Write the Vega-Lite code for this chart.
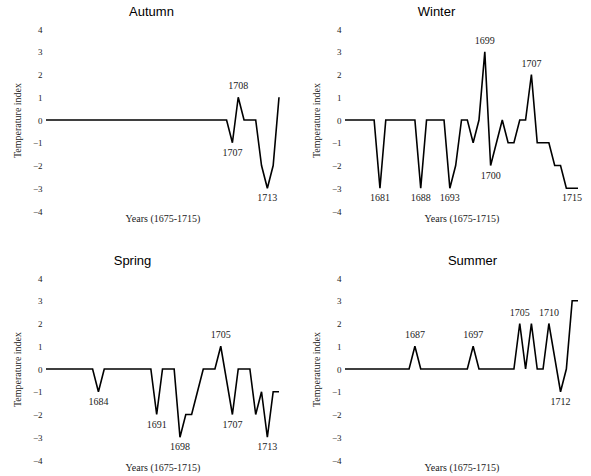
{
  "$schema": "https://vega.github.io/schema/vega-lite/v6.json",
  "background": "white",
  "padding": {"left": 12, "top": 6, "right": 2, "bottom": 2},
  "datasets": {
    "autumn": [
      {"year":1675,"index":0},{"year":1676,"index":0},{"year":1677,"index":0},{"year":1678,"index":0},{"year":1679,"index":0},
      {"year":1680,"index":0},{"year":1681,"index":0},{"year":1682,"index":0},{"year":1683,"index":0},{"year":1684,"index":0},
      {"year":1685,"index":0},{"year":1686,"index":0},{"year":1687,"index":0},{"year":1688,"index":0},{"year":1689,"index":0},
      {"year":1690,"index":0},{"year":1691,"index":0},{"year":1692,"index":0},{"year":1693,"index":0},{"year":1694,"index":0},
      {"year":1695,"index":0},{"year":1696,"index":0},{"year":1697,"index":0},{"year":1698,"index":0},{"year":1699,"index":0},
      {"year":1700,"index":0},{"year":1701,"index":0},{"year":1702,"index":0},{"year":1703,"index":0},{"year":1704,"index":0},
      {"year":1705,"index":0},{"year":1706,"index":0},{"year":1707,"index":-1},{"year":1708,"index":1},{"year":1709,"index":0},
      {"year":1710,"index":0},{"year":1711,"index":0},{"year":1712,"index":-2},{"year":1713,"index":-3},{"year":1714,"index":-2},
      {"year":1715,"index":1}
    ],
    "winter": [
      {"year":1675,"index":0},{"year":1676,"index":0},{"year":1677,"index":0},{"year":1678,"index":0},{"year":1679,"index":0},
      {"year":1680,"index":0},{"year":1681,"index":-3},{"year":1682,"index":0},{"year":1683,"index":0},{"year":1684,"index":0},
      {"year":1685,"index":0},{"year":1686,"index":0},{"year":1687,"index":0},{"year":1688,"index":-3},{"year":1689,"index":0},
      {"year":1690,"index":0},{"year":1691,"index":0},{"year":1692,"index":0},{"year":1693,"index":-3},{"year":1694,"index":-2},
      {"year":1695,"index":0},{"year":1696,"index":0},{"year":1697,"index":-1},{"year":1698,"index":0},{"year":1699,"index":3},
      {"year":1700,"index":-2},{"year":1701,"index":-1},{"year":1702,"index":0},{"year":1703,"index":-1},{"year":1704,"index":-1},
      {"year":1705,"index":0},{"year":1706,"index":0},{"year":1707,"index":2},{"year":1708,"index":-1},{"year":1709,"index":-1},
      {"year":1710,"index":-1},{"year":1711,"index":-2},{"year":1712,"index":-2},{"year":1713,"index":-3},{"year":1714,"index":-3},
      {"year":1715,"index":-3}
    ],
    "spring": [
      {"year":1675,"index":0},{"year":1676,"index":0},{"year":1677,"index":0},{"year":1678,"index":0},{"year":1679,"index":0},
      {"year":1680,"index":0},{"year":1681,"index":0},{"year":1682,"index":0},{"year":1683,"index":0},{"year":1684,"index":-1},
      {"year":1685,"index":0},{"year":1686,"index":0},{"year":1687,"index":0},{"year":1688,"index":0},{"year":1689,"index":0},
      {"year":1690,"index":0},{"year":1691,"index":0},{"year":1692,"index":0},{"year":1693,"index":0},{"year":1694,"index":-2},
      {"year":1695,"index":0},{"year":1696,"index":0},{"year":1697,"index":0},{"year":1698,"index":-3},{"year":1699,"index":-2},
      {"year":1700,"index":-2},{"year":1701,"index":-1},{"year":1702,"index":0},{"year":1703,"index":0},{"year":1704,"index":0},
      {"year":1705,"index":1},{"year":1706,"index":-0.5},{"year":1707,"index":-2},{"year":1708,"index":0},{"year":1709,"index":0},
      {"year":1710,"index":0},{"year":1711,"index":-2},{"year":1712,"index":-1},{"year":1713,"index":-3},{"year":1714,"index":-1},
      {"year":1715,"index":-1}
    ],
    "summer": [
      {"year":1675,"index":0},{"year":1676,"index":0},{"year":1677,"index":0},{"year":1678,"index":0},{"year":1679,"index":0},
      {"year":1680,"index":0},{"year":1681,"index":0},{"year":1682,"index":0},{"year":1683,"index":0},{"year":1684,"index":0},
      {"year":1685,"index":0},{"year":1686,"index":0},{"year":1687,"index":1},{"year":1688,"index":0},{"year":1689,"index":0},
      {"year":1690,"index":0},{"year":1691,"index":0},{"year":1692,"index":0},{"year":1693,"index":0},{"year":1694,"index":0},
      {"year":1695,"index":0},{"year":1696,"index":0},{"year":1697,"index":1},{"year":1698,"index":0},{"year":1699,"index":0},
      {"year":1700,"index":0},{"year":1701,"index":0},{"year":1702,"index":0},{"year":1703,"index":0},{"year":1704,"index":0},
      {"year":1705,"index":2},{"year":1706,"index":0},{"year":1707,"index":2},{"year":1708,"index":0},{"year":1709,"index":0},
      {"year":1710,"index":2},{"year":1711,"index":0.5},{"year":1712,"index":-1},{"year":1713,"index":0},{"year":1714,"index":3},
      {"year":1715,"index":3}
    ],
    "labels": [
      {"season":"Autumn","year":1707,"index":-1,"label":"1707","side":"below"},
      {"season":"Autumn","year":1708,"index":1,"label":"1708","side":"above"},
      {"season":"Autumn","year":1713,"index":-3,"label":"1713","side":"below"},
      {"season":"Winter","year":1681,"index":-3,"label":"1681","side":"below"},
      {"season":"Winter","year":1688,"index":-3,"label":"1688","side":"below"},
      {"season":"Winter","year":1693,"index":-3,"label":"1693","side":"below"},
      {"season":"Winter","year":1699,"index":3,"label":"1699","side":"above"},
      {"season":"Winter","year":1700,"index":-2,"label":"1700","side":"below"},
      {"season":"Winter","year":1707,"index":2,"label":"1707","side":"above"},
      {"season":"Winter","year":1715,"index":-3,"label":"1715","side":"end"},
      {"season":"Spring","year":1684,"index":-1,"label":"1684","side":"below"},
      {"season":"Spring","year":1694,"index":-2,"label":"1691","side":"below"},
      {"season":"Spring","year":1698,"index":-3,"label":"1698","side":"below"},
      {"season":"Spring","year":1705,"index":1,"label":"1705","side":"above"},
      {"season":"Spring","year":1707,"index":-2,"label":"1707","side":"below"},
      {"season":"Spring","year":1713,"index":-3,"label":"1713","side":"below"},
      {"season":"Summer","year":1687,"index":1,"label":"1687","side":"above"},
      {"season":"Summer","year":1697,"index":1,"label":"1697","side":"above"},
      {"season":"Summer","year":1705,"index":2,"label":"1705","side":"above"},
      {"season":"Summer","year":1710,"index":2,"label":"1710","side":"above"},
      {"season":"Summer","year":1712,"index":-1,"label":"1712","side":"below"}
    ]
  },
  "columns": 2,
  "spacing": {"row": 32, "column": 28},
  "concat": [
    {
      "title": {"text": "Autumn", "dx": -11},
      "width": 233, "height": 182,
      "encoding": {
        "x": {"field": "year", "type": "quantitative", "scale": {"domain": [1675, 1715], "nice": false, "zero": false}, "axis": {"title": "Years (1675-1715)", "labels": false, "ticks": false, "domain": false, "grid": false, "titlePadding": 2}},
        "y": {"field": "index", "type": "quantitative", "scale": {"domain": [-4, 4], "nice": false}, "axis": {"title": "Temperature index", "values": [-4,-3,-2,-1,0,1,2,3,4], "labelOverlap": false, "ticks": false, "domain": false, "grid": false, "labelPadding": 4, "titlePadding": 10}}
      },
      "layer": [
        {"data": {"name": "autumn"}, "mark": {"type": "line", "color": "black", "strokeWidth": 1.6}},
        {"data": {"name": "labels"}, "transform": [{"filter": "datum.season === 'Autumn' && datum.side === 'above'"}],
         "mark": {"type": "text", "dy": -11, "font": "Liberation Serif", "fontSize": 10, "color": "#222"},
         "encoding": {"text": {"field": "label"}}},
        {"data": {"name": "labels"}, "transform": [{"filter": "datum.season === 'Autumn' && datum.side === 'below'"}],
         "mark": {"type": "text", "dy": 10, "font": "Liberation Serif", "fontSize": 10, "color": "#222"},
         "encoding": {"text": {"field": "label"}}}
      ]
    },
    {
      "title": {"text": "Winter", "dx": -25},
      "width": 233, "height": 182,
      "encoding": {
        "x": {"field": "year", "type": "quantitative", "scale": {"domain": [1675, 1715], "nice": false, "zero": false}, "axis": {"title": "Years (1675-1715)", "labels": false, "ticks": false, "domain": false, "grid": false, "titlePadding": 2}},
        "y": {"field": "index", "type": "quantitative", "scale": {"domain": [-4, 4], "nice": false}, "axis": {"title": "Temperature index", "values": [-4,-3,-2,-1,0,1,2,3,4], "labelOverlap": false, "ticks": false, "domain": false, "grid": false, "labelPadding": 4, "titlePadding": 10}}
      },
      "layer": [
        {"data": {"name": "winter"}, "mark": {"type": "line", "color": "black", "strokeWidth": 1.6}},
        {"data": {"name": "labels"}, "transform": [{"filter": "datum.season === 'Winter' && datum.side === 'above'"}],
         "mark": {"type": "text", "dy": -11, "font": "Liberation Serif", "fontSize": 10, "color": "#222"},
         "encoding": {"text": {"field": "label"}}},
        {"data": {"name": "labels"}, "transform": [{"filter": "datum.season === 'Winter' && datum.side === 'below'"}],
         "mark": {"type": "text", "dy": 10, "font": "Liberation Serif", "fontSize": 10, "color": "#222"},
         "encoding": {"text": {"field": "label"}}},
        {"data": {"name": "labels"}, "transform": [{"filter": "datum.season === 'Winter' && datum.side === 'end'"}],
         "mark": {"type": "text", "dy": 10, "dx": 4, "align": "right", "font": "Liberation Serif", "fontSize": 10, "color": "#222"},
         "encoding": {"text": {"field": "label"}}}
      ]
    },
    {
      "title": {"text": "Spring", "dx": -30},
      "width": 233, "height": 182,
      "encoding": {
        "x": {"field": "year", "type": "quantitative", "scale": {"domain": [1675, 1715], "nice": false, "zero": false}, "axis": {"title": "Years (1675-1715)", "labels": false, "ticks": false, "domain": false, "grid": false, "titlePadding": 2}},
        "y": {"field": "index", "type": "quantitative", "scale": {"domain": [-4, 4], "nice": false}, "axis": {"title": "Temperature index", "values": [-4,-3,-2,-1,0,1,2,3,4], "labelOverlap": false, "ticks": false, "domain": false, "grid": false, "labelPadding": 4, "titlePadding": 10}}
      },
      "layer": [
        {"data": {"name": "spring"}, "mark": {"type": "line", "color": "black", "strokeWidth": 1.6}},
        {"data": {"name": "labels"}, "transform": [{"filter": "datum.season === 'Spring' && datum.side === 'above'"}],
         "mark": {"type": "text", "dy": -11, "font": "Liberation Serif", "fontSize": 10, "color": "#222"},
         "encoding": {"text": {"field": "label"}}},
        {"data": {"name": "labels"}, "transform": [{"filter": "datum.season === 'Spring' && datum.side === 'below'"}],
         "mark": {"type": "text", "dy": 10, "font": "Liberation Serif", "fontSize": 10, "color": "#222"},
         "encoding": {"text": {"field": "label"}}}
      ]
    },
    {
      "title": {"text": "Summer", "dx": 11},
      "width": 233, "height": 182,
      "encoding": {
        "x": {"field": "year", "type": "quantitative", "scale": {"domain": [1675, 1715], "nice": false, "zero": false}, "axis": {"title": "Years (1675-1715)", "labels": false, "ticks": false, "domain": false, "grid": false, "titlePadding": 2}},
        "y": {"field": "index", "type": "quantitative", "scale": {"domain": [-4, 4], "nice": false}, "axis": {"title": "Temperature index", "values": [-4,-3,-2,-1,0,1,2,3,4], "labelOverlap": false, "ticks": false, "domain": false, "grid": false, "labelPadding": 4, "titlePadding": 10}}
      },
      "layer": [
        {"data": {"name": "summer"}, "mark": {"type": "line", "color": "black", "strokeWidth": 1.6}},
        {"data": {"name": "labels"}, "transform": [{"filter": "datum.season === 'Summer' && datum.side === 'above'"}],
         "mark": {"type": "text", "dy": -11, "font": "Liberation Serif", "fontSize": 10, "color": "#222"},
         "encoding": {"text": {"field": "label"}}},
        {"data": {"name": "labels"}, "transform": [{"filter": "datum.season === 'Summer' && datum.side === 'below'"}],
         "mark": {"type": "text", "dy": 10, "font": "Liberation Serif", "fontSize": 10, "color": "#222"},
         "encoding": {"text": {"field": "label"}}}
      ]
    }
  ],
  "config": {
    "view": {"stroke": null},
    "axis": {"labelFont": "Liberation Serif", "labelFontSize": 9, "labelColor": "#222", "titleFont": "Liberation Serif", "titleFontSize": 10, "titleFontWeight": "normal", "titleColor": "#222"},
    "axisY": {"labelOverlap": false},
    "title": {"font": "Liberation Sans", "fontSize": 13, "fontWeight": "normal", "color": "black", "offset": 6}
  }
}
